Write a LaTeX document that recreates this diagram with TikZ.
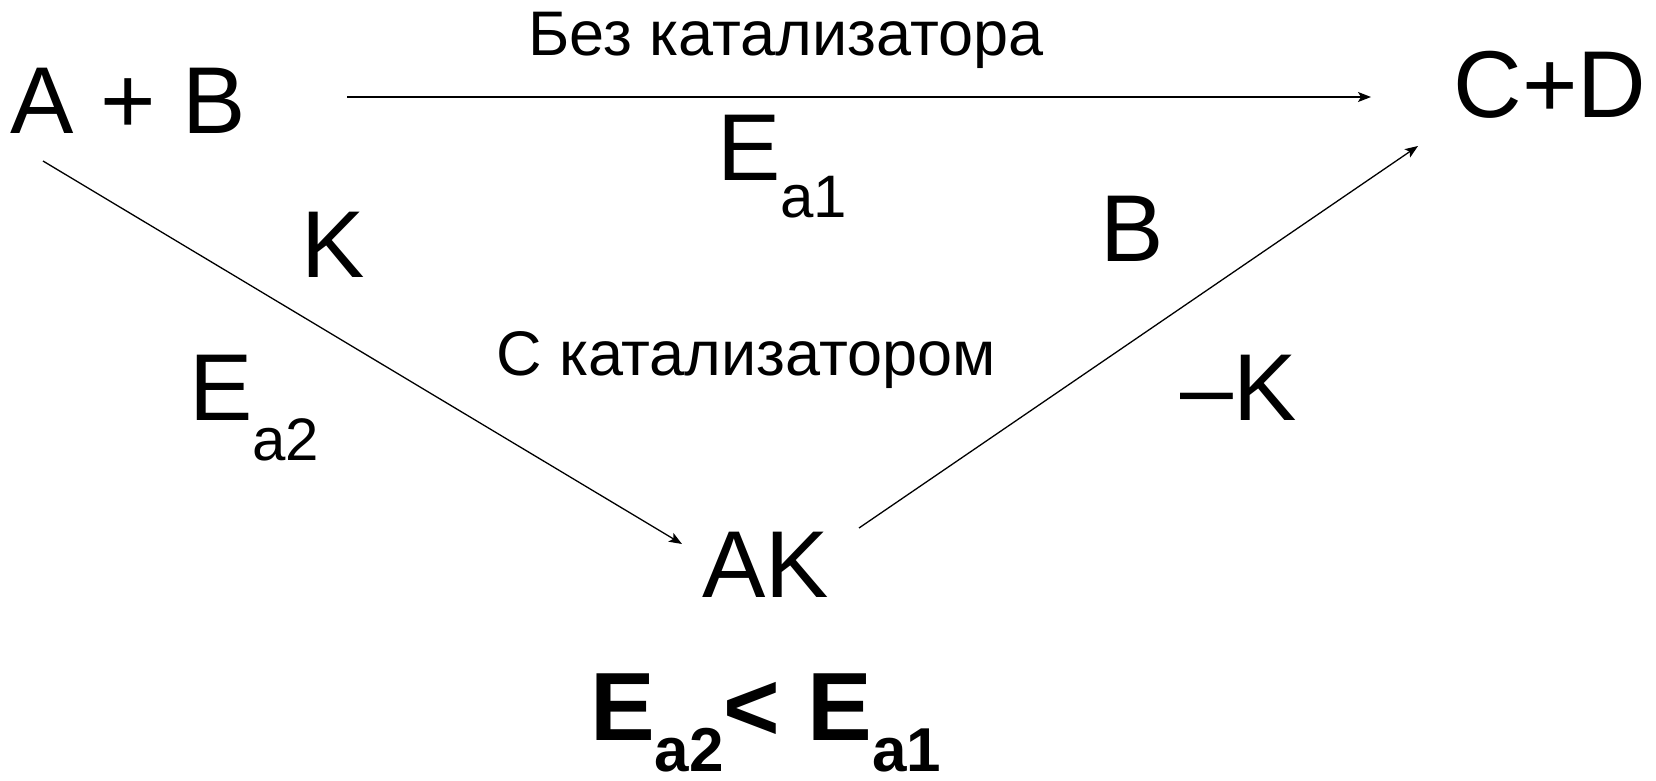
\documentclass[tikz,border=0pt]{standalone}
\usepackage{fontspec}
\setmainfont{Liberation Sans}
\usetikzlibrary{arrows.meta}
\newcommand{\fsz}[1]{\fontsize{#1}{#1}\selectfont}
\newcommand{\lowsub}[2]{\raisebox{-#1pt}{\fsz{60}#2}}
\tikzset{
  big/.style={inner sep=0pt, anchor=base west, font=\fsz{95}},
  small/.style={inner sep=0pt, anchor=base, font=\fsz{63}},
  conn/.style={line width=1.3pt, -{Stealth[length=13pt,width=10pt,inset=3pt]}}
}
\begin{document}
\begin{tikzpicture}[x=1pt,y=-1pt]
\useasboundingbox (0,0) rectangle (1656,780);
% main species
\node[big, anchor=base] (ab) at (128,133) {A + B};
\node[big, anchor=base] (cd) at (1550,117) {C+D};
\node[big] (ak) at (702,597) {AK};
% labels
\node[small] (without) at (786,55) {Без катализатора};
\node[small] (with) at (746,375) {С катализатором};
\node[big] (ea1) at (717,180) {E\lowsub{37}{a1}};
\node[big] (ea2) at (189,420) {E\lowsub{40}{a2}};
\node[big] (k) at (301,277) {K};
\node[big] (b) at (1100,261) {B};
\node[big] (mk) at (1180,420) {–K};
\node[big, font=\fsz{97}\bfseries] (cmp) at (590,740) {E\raisebox{-31pt}{\fsz{62}\bfseries a2}< E\raisebox{-31pt}{\fsz{62}\bfseries a1}};
% connector end points
\coordinate (ab-r) at (347,97);
\coordinate (cd-l) at (1371,97);
\coordinate (ab-d) at (43,161);
\coordinate (ak-l) at (682,544);
\coordinate (ak-r) at (859,528);
\coordinate (cd-d) at (1418,146);
\draw[conn] (ab-r) -- (cd-l);
\draw[conn] (ab-d) -- (ak-l);
\draw[conn] (ak-r) -- (cd-d);
\end{tikzpicture}
\end{document}
